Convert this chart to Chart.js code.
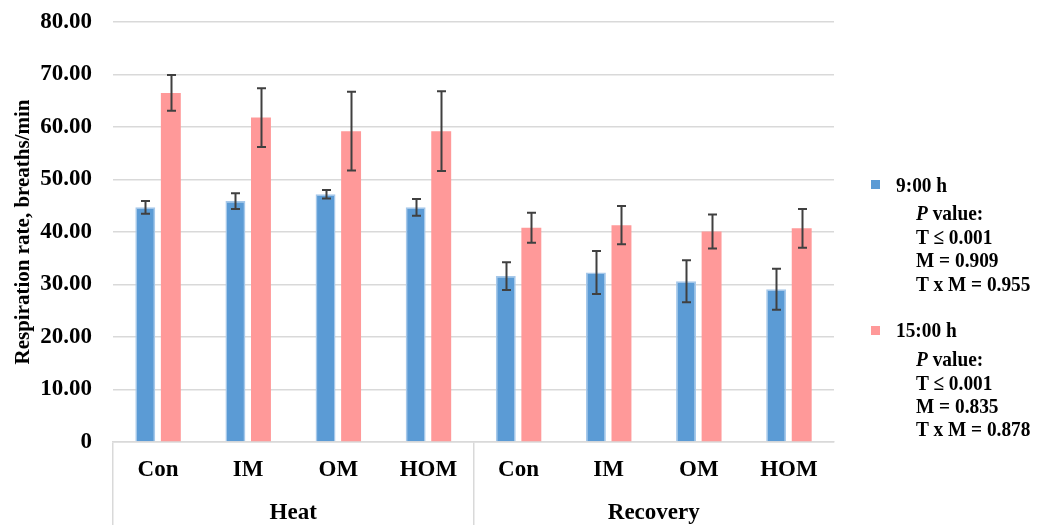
<!DOCTYPE html>
<html>
<head>
<meta charset="utf-8">
<script src="https://cdn.jsdelivr.net/npm/chart.js@4/dist/chart.umd.min.js"></script>
<style>
  html, body { margin: 0; padding: 0; background: #fff; }
  #wrap { position: relative; width: 1037px; height: 525px; overflow: hidden; }
  canvas { position: absolute; left: 0; top: 0; }
  .lg { position: absolute; font-family: 'Liberation Serif', 'Times New Roman', serif; font-weight: bold; font-size: 22px; color: #000; line-height: 24px; white-space: nowrap; transform: scaleX(0.88); transform-origin: 0 50%; }
  .sq { position: absolute; width: 9px; height: 9px; }
</style>
</head>
<body>
<div id="wrap">
  <canvas id="c" width="1037" height="525"></canvas>
</div>
<script>
// ---- data ----
const categories = ['Con', 'IM', 'OM', 'HOM', 'Con', 'IM', 'OM', 'HOM'];
const periods = ['Heat', 'Recovery'];
const seriesNames = ['9:00 h', '15:00 h'];
const morning = [44.7, 45.9, 47.2, 44.7, 31.6, 32.3, 30.6, 29.1];
const morningErr = [1.2, 1.5, 0.8, 1.6, 2.65, 4.1, 4.0, 3.9];
const afternoon = [66.5, 61.8, 59.2, 59.2, 40.8, 41.3, 40.1, 40.7];
const afternoonErr = [3.4, 5.6, 7.5, 7.6, 2.85, 3.65, 3.25, 3.7];
const pMorning = ['T \u2264 0.001', 'M = 0.909', 'T x M = 0.955'];
const pAfternoon = ['T \u2264 0.001', 'M = 0.835', 'T x M = 0.878'];
const yTitle = 'Respiration rate, breaths/min';

const colors = ['#5b9bd5', '#ff9999'];
const serif = "'Liberation Serif', 'Times New Roman', serif";

const errorBars = {
  id: 'errorBars',
  afterDatasetsDraw(chart) {
    const ctx = chart.ctx;
    const y = chart.scales.y;
    ctx.save();
    ctx.strokeStyle = '#404040';
    ctx.lineWidth = 2;
    chart.data.datasets.forEach((ds, i) => {
      const meta = chart.getDatasetMeta(i);
      meta.data.forEach((bar, j) => {
        const v = ds.data[j], e = ds.errors[j];
        const x = Math.round(bar.x) + 0.5;
        const yt = y.getPixelForValue(v + e);
        const yb = y.getPixelForValue(v - e);
        const cw = 4.5;
        ctx.beginPath();
        ctx.moveTo(x, yt); ctx.lineTo(x, yb);
        ctx.moveTo(x - cw, yt); ctx.lineTo(x + cw, yt);
        ctx.moveTo(x - cw, yb); ctx.lineTo(x + cw, yb);
        ctx.stroke();
      });
    });
    ctx.restore();
  }
};

new Chart(document.getElementById('c'), {
  type: 'bar',
  data: {
    labels: categories,
    datasets: [
      { label: seriesNames[0], data: morning, errors: morningErr, backgroundColor: colors[0], borderColor: '#a6c8ea', borderWidth: 1.5, borderSkipped: 'bottom', categoryPercentage: 0.567, barPercentage: 0.78 },
      { label: seriesNames[1], data: afternoon, errors: afternoonErr, backgroundColor: colors[1], borderColor: '#ff9999', borderWidth: 0, categoryPercentage: 0.567, barPercentage: 0.78 }
    ]
  },
  options: {
    responsive: false,
    animation: false,
    devicePixelRatio: 1,
    layout: { padding: { top: 22, right: 203, left: 0, bottom: 0 } },
    plugins: { legend: { display: false }, tooltip: { enabled: false } },
    scales: {
      y: {
        min: 0, max: 80,
        ticks: {
          stepSize: 10,
          color: '#000',
          padding: 0,
          font: { family: serif, weight: 'bold', size: 23 },
          callback: (v) => v === 0 ? '0' : v.toFixed(2)
        },
        grid: { color: '#d9d9d9', lineWidth: 1.5, drawTicks: true, tickLength: 21, tickColor: 'rgba(0,0,0,0)' },
        border: { display: false },
        title: { display: true, text: yTitle, color: '#000', font: { family: serif, weight: 'bold', size: 21 }, padding: { top: 11, bottom: 0 } },
        afterFit: (s) => { s.width = 113; }
      },
      x: {
        weight: 0,
        offset: true,
        grid: {
          offset: true,
          drawOnChartArea: false,
          drawTicks: true,
          tickLength: 84,
          lineWidth: 1.5,
          color: (ctx) => (ctx.index % 4 === 0 ? '#d9d9d9' : 'rgba(0,0,0,0)')
        },
        border: { display: true, color: '#d9d9d9', width: 1.5 },
        ticks: { color: '#000', padding: -70, maxRotation: 0, autoSkip: false, font: { family: serif, weight: 'bold', size: 23 } },
        afterFit: (s) => { s.height = 40; }
      },
      x2: {
        type: 'category',
        labels: periods,
        position: 'bottom',
        weight: 1,
        offset: true,
        grid: { display: false },
        border: { display: false },
        ticks: { color: '#000', padding: 9, maxRotation: 0, autoSkip: false, font: { family: serif, weight: 'bold', size: 23 } },
        afterFit: (s) => { s.height = 43; }
      }
    }
  },
  plugins: [errorBars]
});

// ---- HTML legend ----
const wrap = document.getElementById('wrap');
function addText(txt, x, cy, italicFirst) {
  const d = document.createElement('div');
  d.className = 'lg';
  d.style.left = x + 'px';
  d.style.top = (cy - 12) + 'px';
  if (italicFirst) {
    const i = document.createElement('i');
    i.textContent = 'P';
    d.appendChild(i);
    d.appendChild(document.createTextNode(' value:'));
  } else {
    d.textContent = txt;
  }
  wrap.appendChild(d);
}
function addBlock(name, color, pLines, cy) {
  const s = document.createElement('div');
  s.className = 'sq';
  s.style.background = color;
  s.style.left = '871px';
  s.style.top = (cy - 4.5) + 'px';
  wrap.appendChild(s);
  addText(name, 896, cy);
  addText('', 916, cy + 28.5, true);
  pLines.forEach((t, k) => addText(t, 916, cy + 52.5 + 23.3 * k));
}
addBlock(seriesNames[0], colors[0], pMorning, 184.5);
addBlock(seriesNames[1], colors[1], pAfternoon, 330);
</script>
</body>
</html>
